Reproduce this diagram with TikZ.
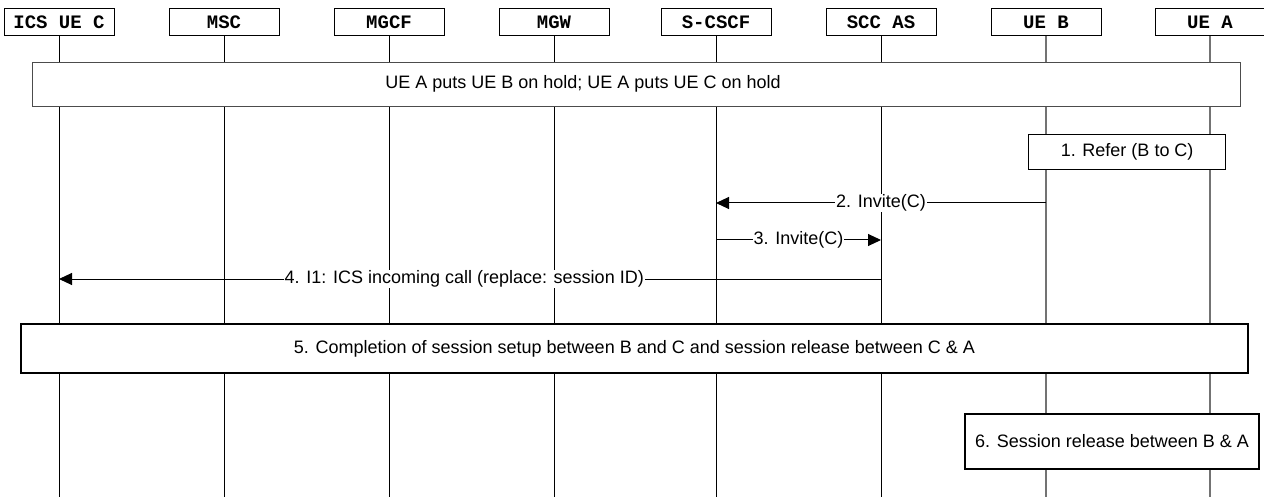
\documentclass[tikz,border=0pt]{standalone}
\usepackage{fontspec}
\setmainfont{Liberation Sans}
\newfontfamily\hdrfont{Liberation Mono}
\usetikzlibrary{arrows.meta}
\begin{document}
\begin{tikzpicture}[x=1pt,y=-1pt,
  hdr/.style={draw, line width=1pt, fill=white, minimum width=110pt, minimum height=27pt, inner sep=0pt,
    font=\hdrfont\bfseries\fontsize{19}{19}\selectfont, anchor=north},
  lifeline/.style={line width=1pt},
  lifelinegray/.style={line width=1.3pt, draw=black!55},
  msg/.style={line width=1pt, -{Triangle[length=13pt,width=12pt]}},
  lbl/.style={fill=white, inner sep=1pt, font=\fontsize{18}{19}\selectfont},
  txt/.style={font=\fontsize{18}{19}\selectfont, inner sep=0pt},
  thinbox/.style={draw=black!70, line width=1pt, fill=white, anchor=north west, inner sep=0pt},
  thickbox/.style={draw, line width=2pt, fill=white, anchor=north west, inner sep=0pt,
    font=\fontsize{18}{19}\selectfont}
]
\useasboundingbox (0,0) rectangle (1264,497);

% headers
\node[hdr] (hC) at (59,8) {ICS UE C};
\node[hdr] (hM) at (224,8) {MSC};
\node[hdr] (hG) at (389,8) {MGCF};
\node[hdr] (hW) at (554,8) {MGW};
\node[hdr] (hS) at (716,8) {S-CSCF};
\node[hdr] (hA) at (881,8) {SCC AS};
\node[hdr] (hB) at (1046,8) {UE B};
\node[hdr] (hU) at (1210,8) {UE A};

% lifelines
\foreach \n in {hC,hM,hG,hW,hS,hA}{
  \draw[lifeline] (\n.south) -- (\n.south |- 0,497);
}
\foreach \n in {hB,hU}{
  \draw[lifelinegray] (\n.south) -- (\n.south |- 0,497);
}

% box 1
\node[thinbox, minimum width=1208pt, minimum height=44pt] (b1) at (32,62) {};
\node[txt] (t1) at (583,84) {UE A puts UE B on hold; UE A puts UE C on hold};

% refer box
\node[draw, line width=1.3pt, fill=white, anchor=north west, inner sep=0pt,
  minimum width=197pt, minimum height=35pt, font=\fontsize{18}{19}\selectfont] (b2) at (1028,134) {1. Refer (B to C)};

% messages
\draw[msg] (hB.south |- 0,203) -- (hS.south |- 0,203) node[lbl, midway] (m2) {2. Invite(C)};
\draw[msg] (hS.south |- 0,240) -- (hA.south |- 0,240) node[lbl, midway] (m3) {3. Invite(C)};
\draw[msg] (hA.south |- 0,279) -- (hC.south |- 0,279) node[lbl, pos=0.507] (m4) {4. I1: ICS incoming call (replace: session ID)};

% box 5
\node[thickbox, minimum width=1227pt, minimum height=49pt] (b5) at (20,323) {5. Completion of session setup between B and C and session release between C \& A};

% box 6
\node[thickbox, minimum width=294pt, minimum height=55pt] (b6) at (964,413) {6. Session release between B \& A};
\end{tikzpicture}
\end{document}
